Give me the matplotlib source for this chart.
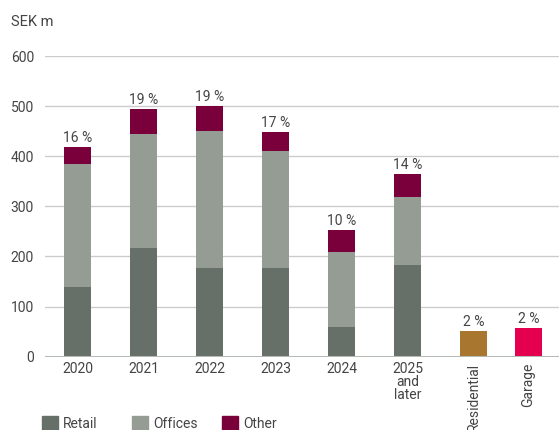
import matplotlib.pyplot as plt
from matplotlib.patches import Rectangle

# Contract expiry by year, SEK m
years = ["2020", "2021", "2022", "2023", "2024", "2025\nand\nlater"]
retail = [139, 217, 177, 177, 59, 183]
offices = [245, 227, 273, 233, 150, 136]
other = [34, 50, 50, 38, 44, 46]
year_pct = ["16 %", "19 %", "19 %", "17 %", "10 %", "14 %"]

extra_labels = ["Residential", "Garage"]
extra_values = [51, 57]
extra_pct = ["2 %", "2 %"]

C_RETAIL = "#667068"
C_OFFICES = "#949c94"
C_OTHER = "#7a003c"
C_RESID = "#a8762e"
C_GARAGE = "#e4004e"
TXT = "#444444"
FS = 10

plt.rcParams["font.family"] = ["Roboto", "DejaVu Sans"]
plt.rcParams["font.size"] = FS

W, H = 559, 430
fig = plt.figure(figsize=(W / 100, H / 100), dpi=100)
ax = fig.add_axes([45 / W, (H - 356.7) / H, (W - 45) / W, 300.7 / H])

width = 0.41
x_years = list(range(len(years)))
x_extra = [6.0, 6.83]

ax.bar(x_years, retail, width, color=C_RETAIL, zorder=3)
ax.bar(x_years, offices, width, bottom=retail, color=C_OFFICES, zorder=3)
base = [r + o for r, o in zip(retail, offices)]
ax.bar(x_years, other, width, bottom=base, color=C_OTHER, zorder=3)
ax.bar(x_extra, extra_values, width, color=[C_RESID, C_GARAGE], zorder=3)

tops = [b + o for b, o in zip(base, other)]
for x, t, p in zip(x_years, tops, year_pct):
    ax.text(x, t + 4, p, ha="center", va="bottom", color=TXT, fontsize=FS)
for x, t, p in zip(x_extra, extra_values, extra_pct):
    ax.text(x, t + 4, p, ha="center", va="bottom", color=TXT, fontsize=FS)

ax.set_xlim(-0.492, 7.295)
ax.set_ylim(0, 600)
ax.set_yticks(range(0, 601, 100))
ax.yaxis.grid(True, color="#cccccc", linewidth=1.0, zorder=0)
ax.axhline(0, color="#b4bab4", linewidth=2.2, zorder=4)
for s in ax.spines.values():
    s.set_visible(False)
ax.tick_params(axis="y", length=0, pad=8, labelcolor=TXT, labelsize=FS)
ax.tick_params(axis="x", length=0, pad=4, labelcolor=TXT, labelsize=FS)
ax.set_xticks(x_years)
ax.set_xticklabels(years, linespacing=0.9)

for x, lab in zip(x_extra, extra_labels):
    ax.text(x, -12, lab, rotation=90, ha="center", va="top", color=TXT,
            fontsize=FS, clip_on=False)

fig.text(11 / W, 1 - 22 / H, "SEK m", ha="left", va="center", color=TXT, fontsize=10.5)

# legend row along the bottom
legend = [("Retail", C_RETAIL, 42), ("Offices", C_OFFICES, 132), ("Other", C_OTHER, 222)]
for name, col, px in legend:
    fig.add_artist(Rectangle((px / W, 1 - 430 / H), 16 / W, 14 / H,
                             transform=fig.transFigure, color=col))
    fig.text((px + 21) / W, 1 - 424 / H, name, ha="left", va="center",
             color=TXT, fontsize=FS)

fig.savefig("out.png", dpi=100)
